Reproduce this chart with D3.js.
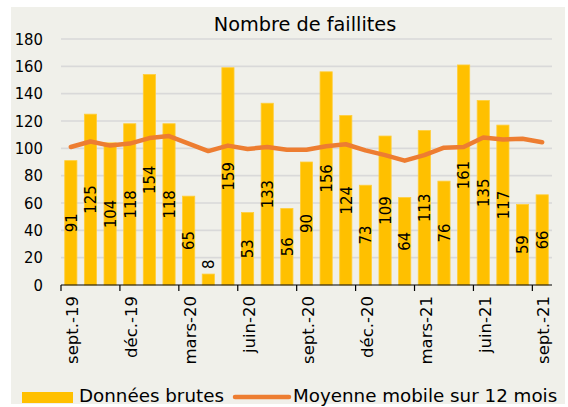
<!DOCTYPE html>
<html><head><meta charset="utf-8">
<script src="https://cdn.jsdelivr.net/npm/d3@7"></script>
<style>
html,body{margin:0;padding:0;background:#fff;}
svg text{font-family:"DejaVu Sans Condensed","DejaVu Sans",sans-serif;font-stretch:condensed;fill:#000;}
svg text.wide{font-family:"DejaVu Sans",sans-serif;font-stretch:normal;}
</style></head>
<body>
<svg id="chart" width="568" height="407"></svg>
<script>
const months = ["sept.-19","oct.-19","nov.-19","déc.-19","janv.-20","févr.-20","mars-20","avr.-20","mai-20","juin-20","juil.-20","août-20","sept.-20","oct.-20","nov.-20","déc.-20","janv.-21","févr.-21","mars-21","avr.-21","mai-21","juin-21","juil.-21","août-21","sept.-21"];
const rawData = [91,125,104,118,154,118,65,8,159,53,133,56,90,156,124,73,109,64,113,76,161,135,117,59,66];
const movingAvg = [101,105,102,103.5,107.5,109,103.5,98,102,99.5,101,99,99,101.5,103,98.5,95,91,95,100.5,101,108,106.5,107,104.5];
const yTicks = [0,20,40,60,80,100,120,140,160,180];
const title = "Nombre de faillites";
const legendLabels = ["Données brutes","Moyenne mobile sur 12 mois"];

const svg = d3.select("#chart");
const W = 568, H = 407;
const m = {left:61, right:16, top:39, bottom:122};

svg.append("rect").attr("x",11).attr("y",7).attr("width",554).attr("height",397).attr("fill","#F0F0EA");

const x = d3.scaleBand().domain(months).range([m.left, W - m.right]).paddingInner(0.38).paddingOuter(0.19);
const y = d3.scaleLinear().domain([0,180]).range([H - m.bottom, m.top]);

// gridlines
svg.append("g").selectAll("line").data(yTicks.filter(d=>d>0)).join("line")
  .attr("x1", m.left).attr("x2", W - m.right)
  .attr("y1", d=>y(d)).attr("y2", d=>y(d))
  .attr("stroke","#D9D9D9").attr("stroke-width",1.6);

// y labels
svg.append("g").selectAll("text").data(yTicks).join("text")
  .attr("x", 43).attr("y", d=>y(d)).attr("dy","0.35em")
  .attr("text-anchor","end").attr("font-size",16.5).text(d=>d);

// bars
svg.append("g").selectAll("rect").data(rawData).join("rect")
  .attr("x",(d,i)=>x(months[i])).attr("width",x.bandwidth())
  .attr("y",d=>y(d)).attr("height",d=>y(0)-y(d))
  .attr("fill","#FFC000").attr("stroke","#FFCE3A").attr("stroke-width",0.8);

// x axis line and ticks at band boundaries every 3 months
const step = x.step();
svg.append("line").attr("x1",m.left).attr("x2",W-m.right).attr("y1",y(0)).attr("y2",y(0))
  .attr("stroke","#000").attr("stroke-width",1.2);
const tickIdx = months.map((d,i)=>i).filter(i=>i%3===0);
svg.append("g").selectAll("line").data(tickIdx).join("line")
  .attr("x1",i=>x(months[i]) - (step - x.bandwidth())/2).attr("x2",i=>x(months[i]) - (step - x.bandwidth())/2)
  .attr("y1",y(0)).attr("y2",y(0)+6).attr("stroke","#000").attr("stroke-width",1.2);
svg.append("g").selectAll("text").data(tickIdx).join("text")
  .attr("class","wide")
  .attr("transform",i=>`translate(${x(months[i])+x.bandwidth()/2+1.5},${y(0)+11}) rotate(-90)`)
  .attr("dy","0.35em").attr("text-anchor","end").attr("font-size",16.5).text(i=>months[i]);

// value labels
svg.append("g").selectAll("text").data(rawData).join("text")
  .attr("transform",(d,i)=>{
    const len = String(d).length*9.4 + 4;
    const h = y(0)-y(d);
    const cy = h > len ? (y(d)+y(0))/2 : y(d) - len/2 - 3;
    return `translate(${x(months[i])+x.bandwidth()/2},${cy}) rotate(-90)`;
  })
  .attr("dy","0.35em").attr("text-anchor","middle").attr("font-size",16.5).text(d=>d);

// moving average line
const line = d3.line().x((d,i)=>x(months[i])+x.bandwidth()/2).y(d=>y(d));
svg.append("path").datum(movingAvg).attr("d",line).attr("fill","none")
  .attr("stroke","#ED7D31").attr("stroke-width",4.5).attr("stroke-linejoin","round").attr("stroke-linecap","round");

// title
svg.append("text").attr("class","wide").attr("x",305).attr("y",31).attr("text-anchor","middle").attr("font-size",19.3).text(title);

// legend
svg.append("rect").attr("x",22).attr("y",392).attr("width",51).attr("height",11).attr("fill","#FFC000");
svg.append("text").attr("class","wide").attr("x",79).attr("y",401.5).attr("font-size",18.3).text(legendLabels[0]);
svg.append("line").attr("x1",235).attr("x2",289).attr("y1",397).attr("y2",397)
  .attr("stroke","#ED7D31").attr("stroke-width",4.5).attr("stroke-linecap","round");
svg.append("text").attr("class","wide").attr("x",293).attr("y",401.5).attr("font-size",18.3).text(legendLabels[1]);
</script>
</body></html>
